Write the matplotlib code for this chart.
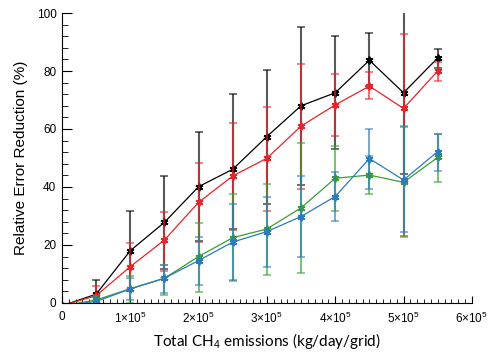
import matplotlib
matplotlib.use('Agg')
import matplotlib.pyplot as plt
from matplotlib.ticker import MultipleLocator, FixedLocator, FixedFormatter

# 폰트 설정
plt.rcParams['font.family'] = ['Liberation Sans', 'DejaVu Sans']
plt.rcParams['mathtext.fontset'] = 'custom'
plt.rcParams['mathtext.rm'] = 'Liberation Sans'
plt.rcParams['mathtext.it'] = 'Liberation Sans:italic'

# x: total emissions (kg/day/grid)
emis = [0, 5e4, 1e5, 1.5e5, 2e5, 2.5e5, 3e5, 3.5e5, 4e5, 4.5e5, 5e5, 5.5e5]

# 평균값과 오차 범위 (아래, 위)
black = [-1, 3, 18, 27.8, 40.1, 46.1, 57.4, 68, 72.5, 83.7, 72.5, 84.5]
black_lo = [-1, -2, 4, 11.6, 21.3, 25.5, 34.1, 40.7, 53, 75, 44.5, 81.2]
black_hi = [-1, 7.9, 31.7, 43.9, 58.8, 72, 80.3, 95.3, 92, 93.2, 105, 87.6]

red = [-1, 2.5, 12.5, 21.7, 34.7, 43.8, 49.9, 61, 68.3, 74.8, 67.1, 80]
red_lo = [-1, -1, 4, 11, 21, 25.2, 31.7, 39.2, 57.6, 70.3, 23, 76.7]
red_hi = [-1, 5.9, 20.6, 31.5, 48.1, 62.2, 67.6, 82.3, 78.9, 79.5, 92.9, 83]

green = [-1, 1, 4.9, 8.5, 16, 22.5, 25.5, 32.8, 43, 44.1, 41.6, 50.2]
green_lo = [-1, -1, 0.1, 2.8, 3.9, 7.4, 9.5, 10.2, 31.7, 37.5, 22.7, 41.8]
green_hi = [-1, 2.5, 9.3, 13, 27.7, 37.5, 40.9, 55, 54.2, 50.8, 60.9, 58.4]

blue = [-1, 0.5, 4.8, 8.5, 14.6, 21, 24.6, 29.8, 36.7, 49.8, 42.4, 52.2]
blue_lo = [-1, -1, 1, 3.4, 6.1, 7.8, 12.3, 15.7, 28.2, 39.2, 24.3, 45.6]
blue_hi = [-1, 2, 8.5, 13.2, 22.6, 34, 36.7, 43.8, 45, 60, 60.7, 58.4]

xtick_vals = [0, 1e5, 2e5, 3e5, 4e5, 5e5, 6e5]
xtick_labels = ['0', '1×10$^5$', '2×10$^5$', '3×10$^5$', '4×10$^5$', '5×10$^5$', '6×10$^5$']

series = [
    (black, black_lo, black_hi, 'black'),
    (red, red_lo, red_hi, '#e8242a'),
    (green, green_lo, green_hi, '#3a9e34'),
    (blue, blue_lo, blue_hi, '#2b7bbd'),
]

fig = plt.figure(figsize=(4.92, 3.53), dpi=100)
ax = fig.add_axes([0.126, 0.142, 0.833, 0.821])

for vals, lo, hi, col in series:
    yerr = [[v - l for v, l in zip(vals, lo)], [h - v for v, h in zip(vals, hi)]]
    ax.errorbar(emis, vals, yerr=yerr, fmt='none', ecolor=col, elinewidth=1.5,
                capsize=3, capthick=1.2, alpha=0.65)
    ax.plot(emis, vals, color=col, lw=0.9, marker=(6, 2, 0), ms=5.5, mew=1.3)

ax.set_xlim(0, 6e5)
ax.set_ylim(0, 100)

ax.xaxis.set_major_locator(FixedLocator(xtick_vals))
ax.xaxis.set_major_formatter(FixedFormatter(xtick_labels))
ax.xaxis.set_minor_locator(MultipleLocator(1e4))
ax.yaxis.set_major_locator(MultipleLocator(20))
ax.yaxis.set_minor_locator(MultipleLocator(4))

ax.spines['top'].set_visible(False)
ax.spines['right'].set_visible(False)
ax.tick_params(axis='both', which='both', direction='in', labelsize=8.5)
ax.tick_params(axis='y', which='major', length=7, pad=4)
ax.tick_params(axis='y', which='minor', length=4)
ax.tick_params(axis='x', which='major', length=5, pad=6)
ax.tick_params(axis='x', which='minor', length=3)

ax.set_ylabel('Relative Error Reduction (%)', fontsize=11, labelpad=6)
ax.set_xlabel('Total CH$_4$ emissions (kg/day/grid)', fontsize=11, labelpad=3,
              family=['Lato', 'DejaVu Sans'])

fig.savefig('out.png', dpi=100)
